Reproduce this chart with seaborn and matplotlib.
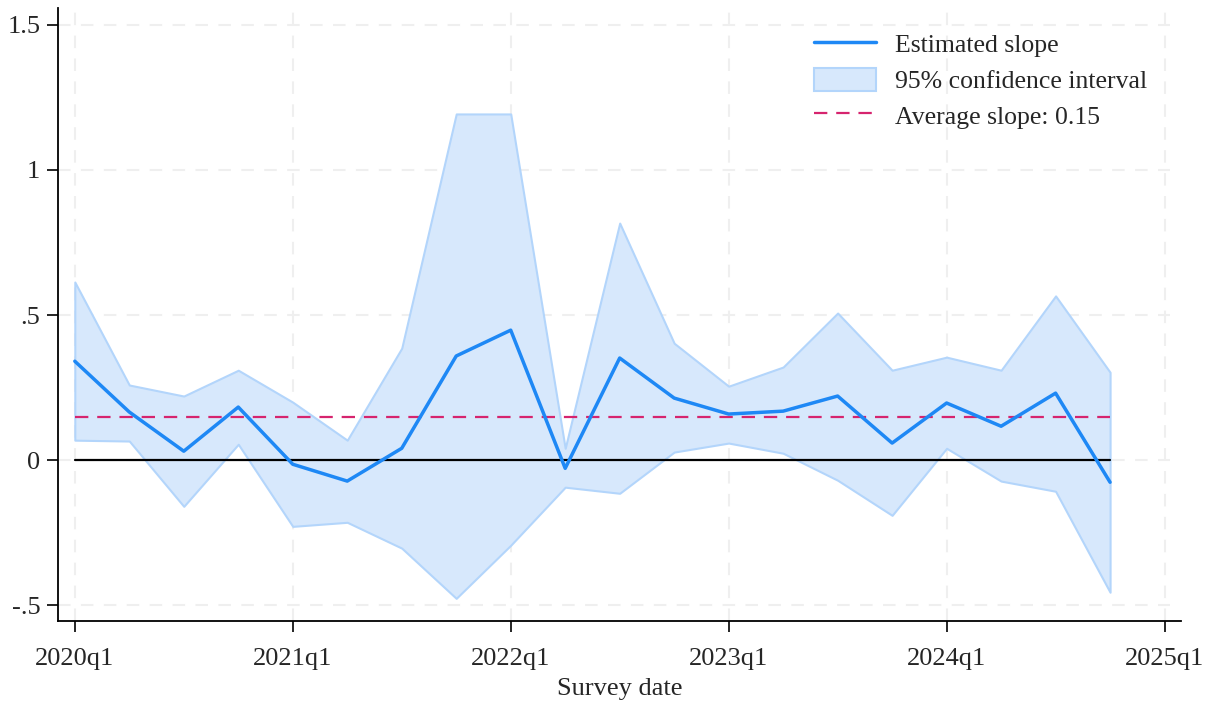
# Estimated slope by survey quarter with 95% CI
import numpy as np
import pandas as pd
import matplotlib.pyplot as plt
import seaborn as sns
from matplotlib.patches import Patch
from matplotlib.lines import Line2D

# quarters 2020q1 .. 2024q4 (index 0 = 2020q1)
quarter = list(range(20))
slope = [0.341, 0.166, 0.031, 0.183, -0.014, -0.072, 0.041, 0.359, 0.448, -0.028,
         0.352, 0.214, 0.159, 0.169, 0.221, 0.059, 0.197, 0.117, 0.231, -0.076]
ci_upper = [0.614, 0.259, 0.221, 0.310, 0.200, 0.069, 0.386, 1.193, 1.193, 0.041,
            0.817, 0.403, 0.255, 0.321, 0.507, 0.310, 0.355, 0.310, 0.566, 0.303]
ci_lower = [0.069, 0.066, -0.159, 0.055, -0.228, -0.214, -0.303, -0.476, -0.293, -0.093,
            -0.114, 0.028, 0.059, 0.024, -0.069, -0.190, 0.041, -0.072, -0.107, -0.455]
avg_slope = 0.15

xtick_pos = [0, 4, 8, 12, 16, 20]
xtick_labels = ['2020q1', '2021q1', '2022q1', '2023q1', '2024q1', '2025q1']
ytick_pos = [-0.5, 0, 0.5, 1, 1.5]
ytick_labels = ['-.5', '0', '.5', '1', '1.5']

df = pd.DataFrame({'quarter': quarter, 'slope': slope,
                   'lo': ci_lower, 'hi': ci_upper})

sns.set_style('white')
plt.rcParams['font.family'] = ['Liberation Serif', 'DejaVu Serif']

line_col = '#1e88f5'
fill_col = '#d7e8fc'
edge_col = '#b3d5fb'
avg_col = '#d6246e'

fig = plt.figure(figsize=(12.18, 7.02), dpi=100)
ax = fig.add_axes([0.048, 0.115, 0.922, 0.874])

# grid
for x in xtick_pos:
    ax.axvline(x, color='#efefef', lw=1.5, ls=(0, (6, 5)), zorder=0)
for y in ytick_pos:
    ax.axhline(y, xmax=0.99, color='#efefef', lw=1.5, ls=(0, (6, 5)), zorder=0)

ax.fill_between(df['quarter'], df['lo'], df['hi'], facecolor=fill_col,
                edgecolor=edge_col, lw=1.5, zorder=1)
ax.plot([df['quarter'].min(), df['quarter'].max()], [0, 0], color='black', lw=1.6, zorder=2)
ax.plot([df['quarter'].min(), df['quarter'].max()], [avg_slope, avg_slope],
        color=avg_col, lw=1.6, ls=(0, (6, 4)), zorder=3)
sns.lineplot(data=df, x='quarter', y='slope', color=line_col, lw=2.5, ax=ax, zorder=4)

ax.set_xlim(-0.3, 20.31)
ax.set_ylim(-0.555, 1.559)
ax.set_xticks(xtick_pos)
ax.set_xticklabels(xtick_labels)
ax.set_yticks(ytick_pos)
ax.set_yticklabels(ytick_labels)
ax.tick_params(axis='both', direction='out', length=8, width=1.2, labelsize=19,
               color='black', bottom=True, left=True, pad=5)
ax.tick_params(axis='x', pad=11)
ax.set_xlabel('Survey date', fontsize=19, labelpad=6)
ax.set_ylabel('')

for side in ['top', 'right']:
    ax.spines[side].set_visible(False)
for side in ['left', 'bottom']:
    ax.spines[side].set_color('black')
    ax.spines[side].set_linewidth(1.3)

handles = [Line2D([0], [0], color=line_col, lw=2.5),
           Patch(facecolor=fill_col, edgecolor=edge_col, lw=1.5),
           Line2D([0], [0], color=avg_col, lw=1.6, ls=(0, (6, 4)))]
labels = ['Estimated slope', '95% confidence interval', f'Average slope: {avg_slope:.2f}']
ax.legend(handles, labels, loc='upper right', bbox_to_anchor=(0.99, 0.998),
          frameon=False, fontsize=18.5, handlelength=2.4, handleheight=1.0,
          handletextpad=0.75, labelspacing=0.4)

plt.savefig('out.png', dpi=100)
